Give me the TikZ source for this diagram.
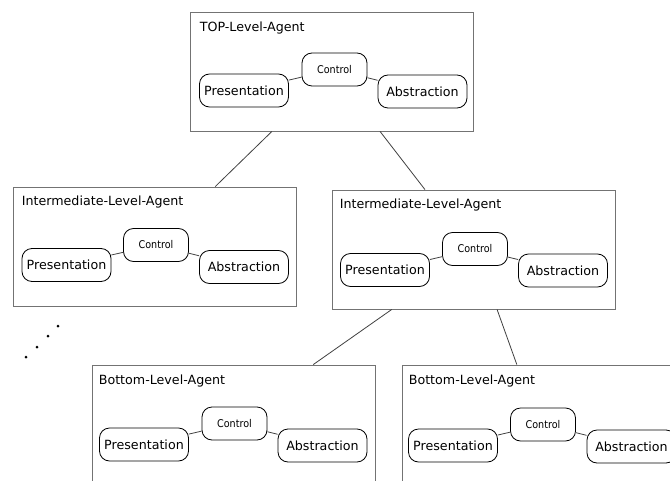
\documentclass[tikz,border=0pt]{standalone}
\usepackage{fontspec}
\setmainfont{DejaVu Sans}
\newfontfamily\condfont{DejaVu Sans Condensed}
\usetikzlibrary{calc}
\tikzset{
  agent/.style={draw=black!55, line width=0.65pt, minimum width=212.25pt, minimum height=89.25pt, inner sep=0pt},
  agenttitle/.style={anchor=north west, inner sep=0pt, font=\fontsize{9.5}{11}\selectfont},
  part/.style={draw, rounded corners=7.5pt, line width=0.6pt, minimum width=66.75pt, minimum height=24.75pt, inner sep=0pt, font=\fontsize{9.5}{11}\selectfont},
  ctrl/.style={part, minimum width=48.75pt, font=\condfont\fontsize{8}{9.5}\selectfont},
  link/.style={draw=black!75, line width=0.6pt},
}

\begin{document}
\begin{tikzpicture}[x=0.75pt, y=-0.75pt]
				\clip (0,0) rectangle (670,481);
				
				\node[agent] (top) at (331.5,71.5) {};
				\node[agenttitle] (toptitle) at ($(top.north west)+(10,10)$) {TOP-Level-Agent};
				\node[part] (toppres) at (244,90.5) {Presentation};
				\node[ctrl] (topctrl) at (334.5,69.5) {Control};
				\node[part] (topabs) at (422.5,91.5) {Abstraction};
				\draw[link] (toppres) -- (topctrl) -- (topabs);
				
				\node[agent] (intl) at (154.5,246.5) {};
				\node[agenttitle] (intltitle) at ($(intl.north west)+(9,9)$) {Intermediate-Level-Agent};
				\node[part] (intlpres) at (66.5,265) {Presentation};
				\node[ctrl] (intlctrl) at (156,245) {Control};
				\node[part] (intlabs) at (244,267) {Abstraction};
				\draw[link] (intlpres) -- (intlctrl) -- (intlabs);
				
				\node[agent] (intr) at (473.5,249.5) {};
				\node[agenttitle] (intrtitle) at ($(intr.north west)+(8,9)$) {Intermediate-Level-Agent};
				\node[part] (intrpres) at (385,270) {Presentation};
				\node[ctrl] (intrctrl) at (475,249) {Control};
				\node[part] (intrabs) at (563,270.5) {Abstraction};
				\draw[link] (intrpres) -- (intrctrl) -- (intrabs);
				
				\node[agent] (botl) at (233.5,424.5) {};
				\node[agenttitle] (botltitle) at ($(botl.north west)+(7,10)$) {Bottom-Level-Agent};
				\node[part] (botlpres) at (144,444.5) {Presentation};
				\node[ctrl] (botlctrl) at (234.5,423.5) {Control};
				\node[part] (botlabs) at (322.5,445.5) {Abstraction};
				\draw[link] (botlpres) -- (botlctrl) -- (botlabs);
				
				\node[agent] (botr) at (543.5,424.5) {};
				\node[agenttitle] (botrtitle) at ($(botr.north west)+(7,10)$) {Bottom-Level-Agent};
				\node[part] (botrpres) at (453,445.5) {Presentation};
				\node[ctrl] (botrctrl) at (543,424.5) {Control};
				\node[part] (botrabs) at (631.5,446.5) {Abstraction};
				\draw[link] (botrpres) -- (botrctrl) -- (botrabs);
				
				\draw[link] ($(top.south west)!0.29!(top.south east)$) -- ($(intl.north west)!0.714!(intl.north east)$);
				\draw[link] ($(top.south west)!0.671!(top.south east)$) -- ($(intr.north west)!0.329!(intr.north east)$);
				\draw[link] ($(intr.south west)!0.212!(intr.south east)$) -- ($(botl.north west)!0.781!(botl.north east)$);
				\draw[link] ($(intr.south west)!0.583!(intr.south east)$) -- ($(botr.north west)!0.406!(botr.north east)$);
				
				\fill (58,326) circle (1.5);
				\fill (48,336) circle (1.5);
				\fill (37,347) circle (1.5);
				\fill (26,357) circle (1.5);
			\end{tikzpicture}
\end{document}
